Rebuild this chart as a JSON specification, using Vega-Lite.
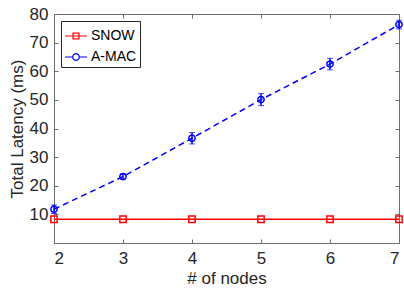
{
  "$schema": "https://vega.github.io/schema/vega-lite/v6.json",
  "width": 345,
  "height": 229,
  "autosize": {"type": "none"},
  "padding": {"left": 54, "top": 14, "right": 5, "bottom": 50},
  "background": "white",
  "config": {
    "font": "Liberation Sans",
    "view": {"stroke": null},
    "axis": {
      "grid": false,
      "domainColor": "#6e6e6e",
      "domainWidth": 1,
      "tickColor": "#6e6e6e",
      "tickWidth": 1,
      "tickSize": -4,
      "labelColor": "#262626",
      "labelFontSize": 17,
      "titleColor": "#262626",
      "titleFontSize": 17,
      "titleFontWeight": "normal"
    }
  },
  "data": {
    "values": [
      {"nodes": 2, "series": "SNOW", "latency": 8.3},
      {"nodes": 3, "series": "SNOW", "latency": 8.3},
      {"nodes": 4, "series": "SNOW", "latency": 8.3},
      {"nodes": 5, "series": "SNOW", "latency": 8.3},
      {"nodes": 6, "series": "SNOW", "latency": 8.3},
      {"nodes": 7, "series": "SNOW", "latency": 8.3},
      {"nodes": 2, "series": "A-MAC", "latency": 11.8, "lo": 10.3, "hi": 13.3},
      {"nodes": 3, "series": "A-MAC", "latency": 23.2, "lo": 22.3, "hi": 24.1},
      {"nodes": 4, "series": "A-MAC", "latency": 36.6, "lo": 34.6, "hi": 38.6},
      {"nodes": 5, "series": "A-MAC", "latency": 50.1, "lo": 48.0, "hi": 52.2},
      {"nodes": 6, "series": "A-MAC", "latency": 62.5, "lo": 60.5, "hi": 64.5},
      {"nodes": 7, "series": "A-MAC", "latency": 76.3, "lo": 74.8, "hi": 77.8}
    ]
  },
  "resolve": {"axis": {"x": "independent", "y": "independent"}},
  "layer": [
    {
      "transform": [{"filter": "datum.series === 'SNOW'"}],
      "mark": {"type": "line", "strokeWidth": 1.5},
      "encoding": {
        "x": {"field": "nodes", "type": "quantitative", "scale": {"domain": [2, 7], "nice": false},
              "axis": {"orient": "bottom", "values": [2, 3, 4, 5, 6, 7], "title": "# of nodes", "labelPadding": 11, "titlePadding": 4}},
        "y": {"field": "latency", "type": "quantitative", "scale": {"domain": [0, 80], "nice": false},
              "axis": {"orient": "left", "values": [10, 20, 30, 40, 50, 60, 70, 80], "title": "Total Latency (ms)", "labelPadding": 10, "titlePadding": 3}},
        "color": {"field": "series", "type": "nominal",
                  "scale": {"domain": ["SNOW", "A-MAC"], "range": ["#ff0000", "#0000ff"]},
                  "legend": {
                    "title": null,
                    "orient": "top-left",
                    "offset": 7,
                    "strokeColor": "#262626",
                    "fillColor": "white",
                    "padding": 3,
                    "labelFontSize": 14,
                    "labelColor": "#000000",
                    "labelOffset": 3,
                    "symbolSize": 484,
                    "rowPadding": 2,
                    "encode": {
                      "symbols": {
                        "update": {
                          "shape": {"signal": "datum.value === 'SNOW' ? 'M-1,0H1M-0.27,-0.27H0.27V0.27H-0.27Z' : 'M-1,0H-0.3M0.3,0H1M0.3,0L0.26,0.15L0.15,0.26L0,0.3L-0.15,0.26L-0.26,0.15L-0.3,0L-0.26,-0.15L-0.15,-0.26L0,-0.3L0.15,-0.26L0.26,-0.15Z'"},
                          "fill": {"value": "transparent"},
                          "strokeWidth": {"value": 1.2},
                          "opacity": {"value": 1}
                        }
                      }
                    }
                  }}
      }
    },
    {
      "transform": [{"filter": "datum.series === 'A-MAC'"}],
      "mark": {"type": "line", "strokeWidth": 1.5, "strokeDash": [6, 4]},
      "encoding": {
        "x": {"field": "nodes", "type": "quantitative", "axis": null},
        "y": {"field": "latency", "type": "quantitative", "axis": null},
        "color": {"field": "series", "type": "nominal"}
      }
    },
    {
      "transform": [{"filter": "datum.series === 'A-MAC'"}],
      "mark": {"type": "errorbar", "ticks": {"size": 6, "strokeWidth": 1.5}, "rule": {"strokeWidth": 1.5}, "color": "#0000ff"},
      "encoding": {
        "x": {"field": "nodes", "type": "quantitative", "axis": null},
        "y": {"field": "lo", "type": "quantitative", "axis": null},
        "y2": {"field": "hi"}
      }
    },
    {
      "transform": [{"filter": "datum.series === 'SNOW'"}],
      "mark": {"type": "point", "shape": "square", "size": 40, "strokeWidth": 1.5, "filled": false, "opacity": 1},
      "encoding": {
        "x": {"field": "nodes", "type": "quantitative", "axis": null},
        "y": {"field": "latency", "type": "quantitative", "axis": null},
        "color": {"field": "series", "type": "nominal"}
      }
    },
    {
      "transform": [{"filter": "datum.series === 'A-MAC'"}],
      "mark": {"type": "point", "shape": "circle", "size": 40, "strokeWidth": 1.5, "filled": false, "opacity": 1},
      "encoding": {
        "x": {"field": "nodes", "type": "quantitative", "axis": null},
        "y": {"field": "latency", "type": "quantitative", "axis": null},
        "color": {"field": "series", "type": "nominal"}
      }
    },
    {
      "mark": {"type": "point", "opacity": 0},
      "encoding": {
        "x": {"field": "nodes", "type": "quantitative",
              "axis": {"orient": "top", "values": [2, 3, 4, 5, 6, 7], "labels": false, "title": null}},
        "y": {"field": "latency", "type": "quantitative",
              "axis": {"orient": "right", "values": [10, 20, 30, 40, 50, 60, 70, 80], "labels": false, "title": null}}
      }
    }
  ]
}
